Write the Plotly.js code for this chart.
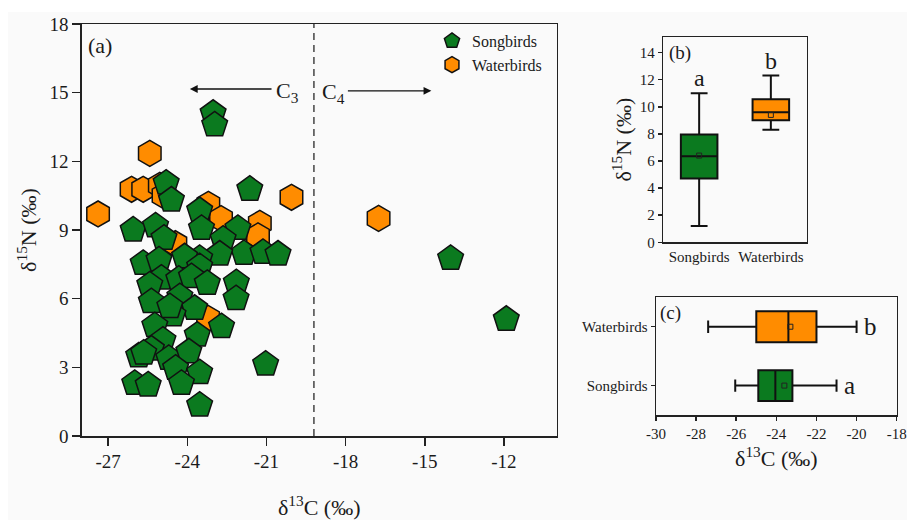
<!DOCTYPE html>
<html><head><meta charset="utf-8">
<script src="https://cdn.plot.ly/plotly-3.0.1.min.js"></script>
<style>html,body{margin:0;padding:0;background:#fff}#chart{width:907px;height:520px}</style>
</head><body><div id="chart"></div>
<script>
// ---- Panel (a): scatter data (δ13C, δ15N) ----
const songbirdsC = [-23.02,-22.96,-24.80,-24.60,-21.63,-23.53,-23.46,-22.08,-22.64,-26.05,-25.20,-24.88,-21.85,-21.13,-20.56,-22.77,-23.53,-24.10,-25.67,-25.07,-23.53,-24.98,-24.32,-23.84,-23.24,-22.14,-25.42,-25.36,-24.28,-23.72,-22.15,-24.54,-24.66,-25.23,-23.62,-22.70,-24.92,-25.36,-25.84,-25.65,-24.70,-23.94,-24.44,-23.53,-24.22,-25.99,-25.48,-23.53,-21.03,-14.02,-11.91];
const songbirdsN = [14.10,13.59,11.05,10.31,10.78,9.85,9.07,9.07,8.60,9.00,9.18,8.64,7.98,8.02,7.95,7.95,7.76,7.83,7.54,7.69,7.40,6.90,6.85,6.96,6.67,6.70,6.60,5.87,6.09,5.58,6.00,5.29,5.65,4.82,4.41,4.78,4.19,3.80,3.50,3.62,3.39,3.68,2.96,2.77,2.30,2.30,2.23,1.35,3.14,7.76,5.10];
const waterbirdsC = [-27.38,-26.11,-25.67,-25.42,-25.04,-24.90,-23.20,-22.72,-21.25,-21.32,-20.05,-24.45,-23.21,-16.75];
const waterbirdsN = [9.70,10.78,10.78,12.35,10.95,10.50,10.12,9.50,9.29,8.74,10.43,8.40,5.14,9.51];
const mainXTicks = [-27,-24,-21,-18,-15,-12];
const mainXTickText = ['-27','-24','-21','-18','-15','-12'];
const mainYTicks = [0,3,6,9,12,15,18];
const c3c4Boundary = -19.2;

// ---- Panel (b): δ15N box statistics ----
const groups = ['Songbirds','Waterbirds'];
const n15Lower  = [1.2, 8.3];
const n15Q1     = [4.7, 9.0];
const n15Median = [6.35, 9.6];
const n15Q3     = [7.95, 10.55];
const n15Upper  = [11.0, 12.3];
const n15Mean   = [6.4, 9.4];
const n15Ticks  = [0,2,4,6,8,10,12,14];

// ---- Panel (c): δ13C box statistics ----
const c13Lower  = [-26.05, -27.4];
const c13Q1     = [-24.9, -25.0];
const c13Median = [-24.05, -23.4];
const c13Q3     = [-23.2, -22.0];
const c13Upper  = [-21.0, -20.0];
const c13Mean   = [-23.6, -23.3];
const c13Ticks  = [-30,-28,-26,-24,-22,-20,-18];
const c13TickText = ['-30','-28','-26','-24','-22','-20','-18'];
const sigLetters = ['a','b'];

const GREEN = '#0b7a1f', ORANGE = '#ff8c00';
const colors = [GREEN, ORANGE];
const FONT = 'Liberation Serif';
const INK = '#1a1a1a';

const traces = [];
traces.push({type:'scatter', mode:'markers', name:'Waterbirds', legendrank:2,
  x: waterbirdsC, y: waterbirdsN, xaxis:'x', yaxis:'y',
  marker:{symbol:'hexagon', size:26, color:ORANGE, line:{color:'#111', width:1.5}}});
traces.push({type:'scatter', mode:'markers', name:'Songbirds', legendrank:1,
  x: songbirdsC, y: songbirdsN, xaxis:'x', yaxis:'y',
  marker:{symbol:'pentagon', size:27, color:GREEN, line:{color:'#111', width:1.5}}});

groups.forEach((g,i)=>{
  traces.push({type:'box', showlegend:false, xaxis:'x2', yaxis:'y2',
    x:[g], q1:[n15Q1[i]], median:[n15Median[i]], q3:[n15Q3[i]],
    lowerfence:[n15Lower[i]], upperfence:[n15Upper[i]],
    width:0.51, whiskerwidth:0.46, fillcolor:colors[i], line:{color:'#111', width:2},
    hoverinfo:'skip'});
  traces.push({type:'box', orientation:'h', showlegend:false, xaxis:'x3', yaxis:'y3',
    y:[g], q1:[c13Q1[i]], median:[c13Median[i]], q3:[c13Q3[i]],
    lowerfence:[c13Lower[i]], upperfence:[c13Upper[i]],
    width:0.525, whiskerwidth:0.4, fillcolor:colors[i], line:{color:'#111', width:2},
    hoverinfo:'skip'});
});
traces.push({type:'scatter', mode:'markers', showlegend:false, xaxis:'x2', yaxis:'y2',
  x: groups, y: n15Mean, marker:{symbol:'square-open', size:5, color:'#222', line:{width:1}}});
traces.push({type:'scatter', mode:'markers', showlegend:false, xaxis:'x3', yaxis:'y3',
  x: c13Mean, y: groups, marker:{symbol:'square-open', size:5, color:'#222', line:{width:1}}});

const W = 907, H = 520;
const px = v => v / W, py = v => 1 - v / H;

const axBase = {showline:true, linecolor:'#222', linewidth:1.5, mirror:true, showgrid:false,
  zeroline:false, ticks:'outside', tickcolor:'#222', tickwidth:1.5};

const annotations = [
  {xref:'paper', yref:'paper', x:px(86), y:py(45), xanchor:'left', yanchor:'middle', text:'(a)', showarrow:false, font:{family:FONT, size:22, color:INK}},
  {xref:'paper', yref:'paper', x:px(667), y:py(53), xanchor:'left', yanchor:'middle', text:'(b)', showarrow:false, font:{family:FONT, size:19, color:INK}},
  {xref:'paper', yref:'paper', x:px(658), y:py(313), xanchor:'left', yanchor:'middle', text:'(c)', showarrow:false, font:{family:FONT, size:19, color:INK}},
  {xref:'x', yref:'y', axref:'x', ayref:'y', x:-23.9, y:15.16, ax:-20.75, ay:15.16, text:'', showarrow:true,
    arrowhead:2, arrowsize:1.2, arrowwidth:1.3, arrowcolor:'#111'},
  {xref:'x', yref:'y', x:-20.72, y:15.05, xanchor:'left', yanchor:'middle', text:'C<sub>3</sub>', showarrow:false, font:{family:FONT, size:22, color:INK}},
  {xref:'x', yref:'y', axref:'x', ayref:'y', x:-14.75, y:15.08, ax:-17.97, ay:15.08, text:'', showarrow:true,
    arrowhead:2, arrowsize:1.2, arrowwidth:1.3, arrowcolor:'#111'},
  {xref:'x', yref:'y', x:-18.98, y:15.0, xanchor:'left', yanchor:'middle', text:'C<sub>4</sub>', showarrow:false, font:{family:FONT, size:22, color:INK}}
];
groups.forEach((g,i)=>{
  annotations.push({xref:'x2', yref:'y2', x:g, y:n15Upper[i], yanchor:'bottom', yshift:0, text:sigLetters[i], showarrow:false, font:{family:FONT, size:24, color:INK}});
  annotations.push({xref:'x3', yref:'y3', x:c13Upper[i], y:g, xanchor:'left', xshift:5, text:sigLetters[i], showarrow:false, font:{family:FONT, size:25, color:INK}});
});

const layout = {
  width:W, height:H, margin:{l:0, r:0, t:0, b:0},
  paper_bgcolor:'#ffffff', plot_bgcolor:'#fafafa',
  font:{family:FONT, color:INK},
  showlegend:true,
  legend:{x:px(432), y:py(24), xanchor:'left', yanchor:'top', bgcolor:'rgba(0,0,0,0)',
    font:{family:FONT, size:16, color:INK}, itemwidth:30, tracegroupgap:0},
  xaxis: Object.assign({}, axBase, {domain:[px(81.7), px(556.7)], range:[-28,-10], tickvals:mainXTicks, ticktext:mainXTickText,
    ticklen:8, tickfont:{family:FONT, size:19, color:INK}, anchor:'y',
    title:{text:'δ<sup>13</sup>C (‰)', font:{family:FONT, size:22, color:INK}, standoff:30}}),
  yaxis: Object.assign({}, axBase, {domain:[py(436), py(24)], range:[0,18], tickvals:mainYTicks,
    ticklen:8, tickfont:{family:FONT, size:19, color:INK}, anchor:'x',
    title:{text:'δ<sup>15</sup>N (‰)', font:{family:FONT, size:22, color:INK}, standoff:6}}),
  xaxis2: Object.assign({}, axBase, {domain:[px(663.3), px(806.7)], type:'category', categoryorder:'array', categoryarray:groups,
    range:[-0.5,1.5], ticks:'', anchor:'y2', tickfont:{family:FONT, size:15, color:INK}}),
  yaxis2: Object.assign({}, axBase, {domain:[py(242.3), py(37)], range:[0,15.15], tickvals:n15Ticks, ticklen:4,
    anchor:'x2', tickfont:{family:FONT, size:15, color:INK},
    title:{text:'δ<sup>15</sup>N (‰)', font:{family:FONT, size:22, color:INK}, standoff:2}}),
  xaxis3: Object.assign({}, axBase, {domain:[px(656), px(896.7)], range:[-30,-18], tickvals:c13Ticks, ticktext:c13TickText, ticklen:4,
    anchor:'y3', tickfont:{family:FONT, size:15, color:INK},
    title:{text:'δ<sup>13</sup>C (‰)', font:{family:FONT, size:22, color:INK}, standoff:10}}),
  yaxis3: Object.assign({}, axBase, {domain:[py(415), py(297.3)], type:'category', categoryorder:'array', categoryarray:groups,
    range:[-0.5,1.5], ticklen:4, anchor:'x3', tickfont:{family:FONT, size:15, color:INK}}),
  shapes:[
    {type:'rect', xref:'paper', yref:'paper', x0:px(8), x1:1, y0:0, y1:py(12), fillcolor:'#fafafa', line:{width:0}, layer:'below'},
    {type:'line', xref:'x', yref:'y', x0:c3c4Boundary, x1:c3c4Boundary, y0:0, y1:18, line:{color:'#444', width:1.5, dash:'7px,5px'}}
  ],
  annotations: annotations
};

Plotly.newPlot('chart', traces, layout, {staticPlot:true, displayModeBar:false});
</script>
</body></html>
